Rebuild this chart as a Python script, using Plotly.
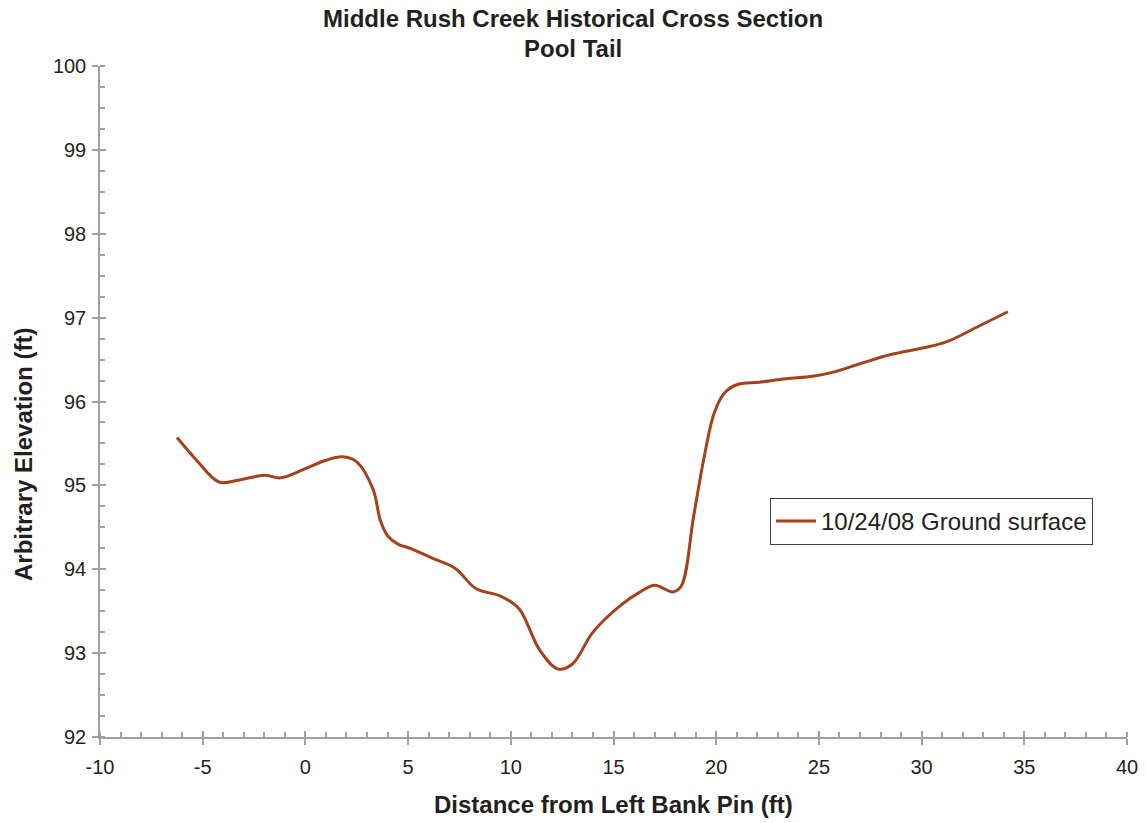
import plotly.graph_objects as go

# Surveyed ground profile, 10/24/08
distance_ft = [-6.25, -5.3, -4.2, -3.3, -2.0, -1.2, 0.0, 1.0, 1.8, 2.5, 3.3, 3.65,
               4.0, 4.5, 5.1, 6.2, 7.3, 8.3, 9.5, 10.4, 11.4, 12.3, 13.0, 14.0, 15.3,
               16.3, 17.0, 17.9, 18.3, 18.9, 19.4, 19.9, 20.4, 21.0, 22.1, 23.4,
               24.7, 25.7, 27.0, 28.5, 30.1, 31.2, 32.8, 34.2]
elevation_ft = [95.57, 95.30, 95.04, 95.06, 95.12, 95.09, 95.20, 95.30, 95.34, 95.28,
                94.95, 94.58, 94.40, 94.30, 94.25, 94.13, 94.01, 93.77, 93.68, 93.53,
                93.04, 92.81, 92.87, 93.25, 93.56, 93.73, 93.81, 93.73, 93.80, 94.63,
                95.32, 95.86, 96.10, 96.20, 96.23, 96.27, 96.30, 96.35, 96.45, 96.56,
                96.64, 96.71, 96.90, 97.07]
series_name = "10/24/08 Ground surface"

x_ticks = [-10, -5, 0, 5, 10, 15, 20, 25, 30, 35, 40]
y_ticks = [92, 93, 94, 95, 96, 97, 98, 99, 100]

FONT = "Liberation Sans, Arial, sans-serif"
TEXT = "#231f20"
AXIS = "#a0a0a0"
LINE = "#a3421d"

fig = go.Figure()
fig.add_trace(go.Scatter(
    x=distance_ft, y=elevation_ft, mode="lines", name=series_name,
    line=dict(color=LINE, width=3, shape="spline", smoothing=1.0),
))

axis_common = dict(showgrid=False, zeroline=False, showline=True, linecolor=AXIS,
                   linewidth=1.5, ticks="outside", ticklen=6, tickcolor=AXIS,
                   tickwidth=1.5, automargin=False,
                   tickfont=dict(family=FONT, size=20, color=TEXT))

fig.update_layout(
    width=1146, height=823,
    margin=dict(l=100, r=19, t=66, b=86),
    paper_bgcolor="white", plot_bgcolor="white",
    font=dict(family=FONT, color=TEXT),
    xaxis=dict(range=[-10, 40], tickmode="array", tickvals=x_ticks,
               ticktext=[str(v) for v in x_ticks], ticklabelstandoff=5,
               minor=dict(dtick=1, tick0=-10, ticks="inside", ticklen=5,
                          tickcolor=AXIS, tickwidth=1.5),
               **axis_common),
    yaxis=dict(range=[92, 100], tickmode="array", tickvals=y_ticks,
               ticktext=[str(v) for v in y_ticks], ticklabelstandoff=2,
               minor=dict(dtick=0.25, tick0=92, ticks="inside", ticklen=5,
                          tickcolor=AXIS, tickwidth=1.5),
               **axis_common),
    # inner halves of the major ticks
    xaxis2=dict(overlaying="x", matches="x", anchor="y", side="bottom", range=[-10, 40],
                tickmode="array", tickvals=x_ticks, ticks="inside", ticklen=6,
                tickcolor=AXIS, tickwidth=1.5, automargin=False,
                showticklabels=False, showline=False, showgrid=False, zeroline=False),
    yaxis2=dict(overlaying="y", matches="y", anchor="x", side="left", range=[92, 100],
                tickmode="array", tickvals=y_ticks, ticks="inside", ticklen=6,
                tickcolor=AXIS, tickwidth=1.5, automargin=False,
                showticklabels=False, showline=False, showgrid=False, zeroline=False),
    showlegend=True,
    legend=dict(x=(770 - 100) / 1027, y=(737 - 498) / 671, xanchor="left", yanchor="top",
                bgcolor="white", bordercolor="#404040", borderwidth=1,
                font=dict(family=FONT, size=24, color=TEXT), itemwidth=40,
                tracegroupgap=0),
    annotations=[
        dict(text="<b>Middle Rush Creek Historical Cross Section</b>", xref="paper",
             yref="paper", x=(573 - 100) / 1027, y=(737 - 18) / 671,
             xanchor="center", yanchor="middle", showarrow=False,
             font=dict(family=FONT, size=24, color=TEXT)),
        dict(text="<b>Pool Tail</b>", xref="paper", yref="paper",
             x=(573 - 100) / 1027, y=(737 - 48) / 671,
             xanchor="center", yanchor="middle", showarrow=False,
             font=dict(family=FONT, size=24, color=TEXT)),
        dict(text="<b>Distance from Left Bank Pin (ft)</b>", xref="paper", yref="paper",
             x=0.5, y=(737 - 804) / 671, xanchor="center", yanchor="middle",
             showarrow=False, font=dict(family=FONT, size=24, color=TEXT)),
        dict(text="<b>Arbitrary Elevation (ft)</b>", xref="paper", yref="paper",
             x=(23 - 100) / 1027, y=(737 - 455) / 671, xanchor="center", yanchor="middle",
             textangle=-90, showarrow=False, font=dict(family=FONT, size=24, color=TEXT)),
    ],
)

# empty trace so the overlay axes are rendered
fig.add_trace(go.Scatter(x=[None], y=[None], xaxis="x2", yaxis="y2",
                         showlegend=False, hoverinfo="skip"))

fig.write_html("out.html")
